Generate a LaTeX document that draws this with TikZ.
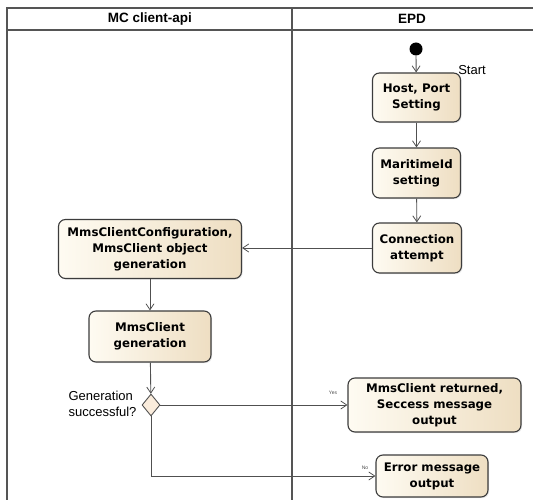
\documentclass[tikz,border=0pt]{standalone}
\usepackage{fontspec}
\setmainfont{Liberation Sans}
\newfontfamily\boxfont{DejaVu Sans}
\usetikzlibrary{arrows.meta,shapes.geometric,shadows}

\definecolor{laneline}{RGB}{85,85,85}
\definecolor{edgeline}{RGB}{80,80,80}
\definecolor{boxborder}{RGB}{60,60,60}
\definecolor{boxlight}{RGB}{254,251,242}
\definecolor{boxdark}{RGB}{238,222,194}
\definecolor{decfill}{RGB}{250,236,220}

\tikzset{
  lane/.style={draw=laneline, line width=1.3pt},
  action/.style={draw=boxborder, line width=1.1pt, rounded corners=7pt,
    left color=boxlight, right color=boxdark, align=center,
    font=\boxfont\bfseries\fontsize{11.8}{16}\selectfont, inner sep=2pt,
    drop shadow={opacity=0.18, shadow xshift=1.2pt, shadow yshift=-1.2pt}},
  flow/.style={draw=edgeline, line width=0.9pt,
    -{Straight Barb[length=6pt,width=8pt,line width=0.8pt]}},
  decision/.style={diamond, draw=edgeline, line width=0.9pt, fill=decfill,
    minimum width=18pt, minimum height=22pt, inner sep=0pt, aspect=0.8},
  lanetitle/.style={font=\bfseries\fontsize{13.5}{15}\selectfont},
  note/.style={font=\fontsize{13}{16.5}\selectfont},
  guard/.style={font=\fontsize{5}{6}\selectfont, text=black!70}
}

\begin{document}
\begin{tikzpicture}[x=1pt, y=-1pt]
  \useasboundingbox (0,0) rectangle (533,500);

  % swimlane frame
  \draw[lane] (7,500) -- (7,8) -- (533,8);
  \draw[lane] (7,30) -- (533,30);
  \draw[lane] (292,8) -- (292,500);
  \node[lanetitle] (laneA) at (150,19) {MC client-api};
  \node[lanetitle] (laneB) at (412,19) {EPD};

  % start
  \fill[black] (416,49) circle (6.5pt);
  \coordinate (init) at (416,55.5);
  \node[note] (startlbl) at (472,70) {Start};

  % EPD lane actions
  \node[action, minimum width=88pt, minimum height=49pt] (host) at (416.5,97.5) {Host, Port\\Setting};
  \node[action, minimum width=88pt, minimum height=50pt] (mari) at (416.5,173) {MaritimeId\\setting};
  \node[action, minimum width=89pt, minimum height=50pt] (conn) at (417,248) {Connection\\attempt};

  % client-api lane actions
  \node[action, minimum width=183pt, minimum height=59pt] (config) at (150,249) {MmsClientConfiguration,\\MmsClient object\\generation};
  \node[action, minimum width=122pt, minimum height=51pt] (gen) at (150,336.5) {MmsClient\\generation};
  \node[decision] (dec) at (151,405) {};
  \node[note, align=left, anchor=east] (declbl) at (140,404) {Generation\\successful?};

  % results
  \node[action, minimum width=173pt, minimum height=54pt] (succ) at (434.5,405) {MmsClient returned,\\Seccess message\\output};
  \node[action, minimum width=112pt, minimum height=42pt] (err) at (432,476) {Error message\\output};

  % flows
  \draw[flow] (init) -- (host);
  \draw[flow] (host) -- (mari);
  \draw[flow] (mari) -- (conn);
  \draw[flow] (conn.west) -- (conn.west -| config.east);
  \draw[flow] (config) -- (gen);
  \draw[flow] (gen) -- (dec);
  \draw[flow] (dec.east) -- (succ.west);
  \draw[flow] (dec.south) |- (err.west);

  \node[guard] (yes) at (333,393) {Yes};
  \node[guard] (no) at (365,468) {No};
\end{tikzpicture}
\end{document}
